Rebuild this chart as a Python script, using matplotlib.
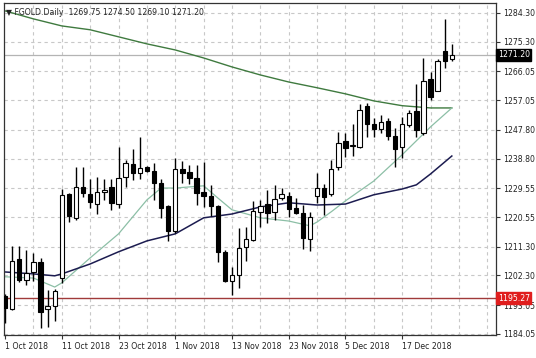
import numpy as np
import matplotlib
matplotlib.use("Agg")
from matplotlib import pyplot as plt
import matplotlib.transforms as mtransforms

# daily candles, FGOLD 1 Oct 2018 .. 24 Dec 2018
opens = [1195.9, 1191.9, 1207.5, 1200.9, 1203.4, 1206.5, 1191.9, 1192.8, 1201.5, 1227.8,
         1220.3, 1230.0, 1227.8, 1224.6, 1228.4, 1230.0, 1224.6, 1233.1, 1237.1, 1234.3,
         1236.2, 1235.0, 1231.2, 1224.0, 1216.2, 1235.6, 1234.6, 1232.8, 1228.4, 1227.2,
         1224.0, 1209.7, 1200.6, 1202.5, 1211.2, 1213.4, 1222.2, 1224.6, 1222.2, 1226.5,
         1227.2, 1223.4, 1221.8, 1213.7, 1227.2, 1229.6, 1227.8, 1236.2, 1244.3, 1242.7,
         1242.5, 1255.3, 1249.6, 1248.1, 1250.6, 1245.9, 1242.5, 1249.3, 1253.7, 1246.8,
         1263.7, 1259.9, 1272.4, 1269.75]
highs = [1196.5, 1211.5, 1211.5, 1210.3, 1209.3, 1207.8, 1197.8, 1198.1, 1229.3, 1228.1,
         1236.2, 1236.2, 1232.5, 1233.1, 1232.5, 1232.5, 1242.4, 1238.4, 1241.8, 1245.6,
         1236.5, 1237.5, 1232.5, 1224.3, 1239.0, 1238.1, 1236.8, 1236.8, 1237.8, 1230.6,
         1224.3, 1210.3, 1205.0, 1217.2, 1217.5, 1225.6, 1225.9, 1229.0, 1230.6, 1229.6,
         1228.4, 1226.5, 1224.3, 1222.2, 1234.3, 1230.9, 1238.4, 1247.1, 1246.8, 1249.6,
         1255.9, 1256.2, 1251.5, 1252.4, 1251.5, 1248.4, 1251.8, 1254.0, 1262.1, 1270.2,
         1265.9, 1269.9, 1282.4, 1274.50]
lows = [1187.5, 1191.5, 1200.3, 1199.4, 1200.6, 1185.9, 1186.2, 1188.1, 1200.0, 1219.0,
        1219.7, 1226.8, 1223.4, 1221.5, 1225.9, 1222.9, 1223.4, 1230.0, 1232.1, 1232.5,
        1234.6, 1225.9, 1220.3, 1213.1, 1215.6, 1231.2, 1230.9, 1224.3, 1223.7, 1220.9,
        1206.5, 1200.3, 1196.2, 1198.4, 1206.8, 1213.0, 1217.5, 1218.7, 1219.7, 1225.9,
        1220.6, 1221.5, 1210.6, 1210.0, 1225.0, 1221.2, 1227.2, 1235.3, 1239.3, 1239.6,
        1242.1, 1245.6, 1245.6, 1246.8, 1244.6, 1236.2, 1239.0, 1248.7, 1245.6, 1246.2,
        1257.1, 1259.9, 1267.1, 1269.10]
closes = [1192.2, 1206.9, 1200.9, 1203.1, 1206.5, 1190.9, 1192.8, 1197.5, 1227.5, 1220.9,
          1230.0, 1228.1, 1225.3, 1228.4, 1229.0, 1225.0, 1232.8, 1237.5, 1234.3, 1235.9,
          1235.0, 1231.2, 1223.4, 1216.2, 1235.6, 1234.3, 1232.8, 1228.1, 1227.2, 1224.0,
          1209.7, 1200.6, 1202.5, 1210.9, 1213.7, 1222.5, 1224.0, 1221.8, 1226.2, 1227.8,
          1223.1, 1221.8, 1214.0, 1220.6, 1229.6, 1226.8, 1235.6, 1243.7, 1242.1, 1242.9,
          1254.0, 1249.6, 1248.1, 1250.3, 1245.9, 1241.8, 1249.6, 1253.1, 1247.8, 1263.1,
          1258.1, 1269.3, 1269.3, 1271.20]

# moving averages, sampled at bar numbers
ma_long_idx = [0, 4, 8, 12, 16, 20, 24, 28, 32, 36, 40, 44, 48, 52, 56, 60, 63]
ma_long = [1284.9, 1282.4, 1280.2, 1279.0, 1276.8, 1274.6, 1272.7, 1270.2, 1267.4,
           1264.9, 1262.7, 1260.9, 1259.0, 1256.8, 1255.3, 1254.6, 1254.6]
ma_mid_idx = [0, 4, 7, 8, 12, 16, 20, 24, 28, 32, 36, 40, 44, 48, 52, 56, 58, 60, 63]
ma_mid = [1203.4, 1202.8, 1202.2, 1202.8, 1205.9, 1209.7, 1213.1, 1215.3, 1220.3, 1221.5,
          1223.7, 1225.0, 1224.3, 1224.6, 1227.5, 1229.3, 1230.6, 1234.0, 1239.6]
ma_fast_idx = [0, 4, 7, 8, 12, 16, 20, 22, 24, 28, 30, 32, 36, 40, 43, 44, 46, 48, 52, 56, 60, 63]
ma_fast = [1201.9, 1201.5, 1198.7, 1200.0, 1207.8, 1215.3, 1225.9, 1229.6, 1229.6, 1230.3,
           1226.5, 1222.8, 1220.3, 1219.3, 1217.8, 1219.0, 1222.2, 1225.6, 1231.8, 1240.0,
           1248.7, 1254.6]

ytick_vals = [1184.05, 1193.05, 1202.30, 1211.30, 1220.55, 1229.55, 1238.80, 1247.80,
              1257.05, 1266.05, 1275.30, 1284.30]
date_labels = ["1 Oct 2018", "11 Oct 2018", "23 Oct 2018", "1 Nov 2018",
               "13 Nov 2018", "23 Nov 2018", "5 Dec 2018", "17 Dec 2018"]
date_idx = [0, 8, 16, 24, 32, 40, 48, 56]
last_price = 1271.20
level = 1195.27

fs = 5.6
fig = plt.figure(figsize=(5.36, 3.58), dpi=100)
ax = fig.add_axes([0.0075, 0.064, 0.9175, 0.928])

x = np.arange(len(opens))
o = np.array(opens); h = np.array(highs); l = np.array(lows); c = np.array(closes)

# grid
for yv in ytick_vals:
    ax.axhline(yv, color="#c8c8c8", lw=0.8, ls=(0, (3, 3)), zorder=0)
for xv in range(4, 72, 4):
    ax.axvline(xv, color="#c8c8c8", lw=0.8, ls=(0, (3, 3)), zorder=0)

ax.axhline(last_price, color="#b4b4b4", lw=0.9, zorder=1)
ax.axhline(level, color="#a03a3a", lw=1.0, zorder=1)

# candles
ax.vlines(x, l, h, color="black", lw=1.0, zorder=3)
up = c >= o
body_lo = np.minimum(o, c)
body_h = np.maximum(np.abs(c - o), 0.35)
ax.bar(x[up], body_h[up], bottom=body_lo[up], width=0.62, color="white",
       edgecolor="black", linewidth=0.8, zorder=4)
ax.bar(x[~up], body_h[~up], bottom=body_lo[~up], width=0.62, color="black",
       edgecolor="black", linewidth=0.8, zorder=4)

# moving averages
ax.plot(ma_long_idx, ma_long, color="#3f7a3f", lw=1.0, zorder=2)
ax.plot(ma_fast_idx, ma_fast, color="#8cbfa6", lw=0.9, zorder=2)
ax.plot(ma_mid_idx, ma_mid, color="#1c1c50", lw=1.1, zorder=2)

ax.set_xlim(-0.15, 69.2)
ax.set_ylim(1183.7, 1287.4)

ax.yaxis.tick_right()
ax.set_yticks(ytick_vals)
ax.set_yticklabels(["%.2f" % v for v in ytick_vals], fontsize=fs, color="#222222")
ax.set_xticks(date_idx)
ax.set_xticklabels(date_labels, fontsize=fs, color="#222222", ha="left")
ax.tick_params(axis="both", length=3, width=0.8, color="#333333", pad=2)
for s in ax.spines.values():
    s.set_color("#333333")
    s.set_linewidth(0.9)

# price boxes on the right axis
trans = mtransforms.blended_transform_factory(ax.transAxes, ax.transData)
ax.text(1.004, last_price, "%.2f" % last_price, transform=trans, fontsize=fs,
        color="white", va="center", ha="left",
        bbox=dict(boxstyle="square,pad=0.2", fc="black", ec="black"), zorder=10,
        clip_on=False)
ax.text(1.004, level, "%.2f" % level, transform=trans, fontsize=fs,
        color="white", va="center", ha="left",
        bbox=dict(boxstyle="square,pad=0.2", fc="#e01e1e", ec="#e01e1e"), zorder=10,
        clip_on=False)

ax.text(0.004, 0.985, "\u25bc FGOLD.Daily  1269.75 1274.50 1269.10 1271.20",
        transform=ax.transAxes, fontsize=fs, color="#222222", va="top", ha="left")

fig.savefig("out.png", dpi=100)
